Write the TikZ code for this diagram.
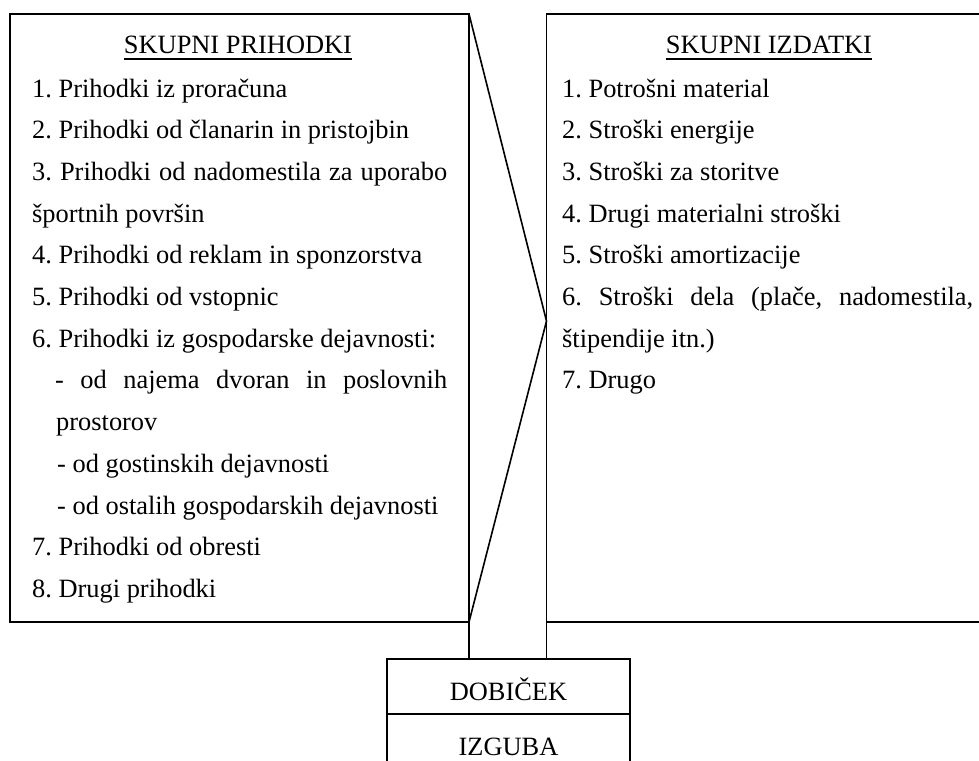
\documentclass[tikz,border=0pt]{standalone}
\usepackage{fontspec}
\setmainfont{Liberation Serif}
\frenchspacing
\begin{document}
\begin{tikzpicture}[x=1pt,y=-1pt,
  box/.style={draw, line width=1.7pt, inner sep=0pt, outer sep=0pt},
  txt/.style={anchor=base west, inner sep=0pt, font=\fontsize{26.4}{30}\selectfont\frenchspacing},
  ttl/.style={anchor=base, inner sep=0pt, font=\fontsize{26.4}{30}\selectfont},
  conn/.style={line width=1.6pt},
  uline/.style={line width=1.7pt}]
\useasboundingbox (0,0) rectangle (979,760);
\clip (0,0) rectangle (979,760);
% boxes
\node[box, minimum width=459pt, minimum height=608pt] (lbox) at (239.5,318) {};
\node[box, minimum width=460pt, minimum height=608pt] (rbox) at (776.5,318) {};
\node[box, minimum width=243pt, minimum height=55pt] (dob) at (508.5,686.5) {};
\node[box, minimum width=243pt, minimum height=80pt, anchor=north] (izg) at (dob.south) {};
% connectors
\coordinate (vy) at (0,321);
\coordinate (v) at (rbox.west |- vy);
\draw[conn, line join=miter] (lbox.north east) -- (v) -- (lbox.south east);
\draw[conn] (lbox.south east) -- (lbox.south east |- dob.north);
\draw[conn] (rbox.south west) -- (rbox.south west |- dob.north);
% titles
\node[ttl] (t1) at (238,53) {SKUPNI PRIHODKI};
\draw[uline] ([yshift=-6pt]t1.base west) -- ([yshift=-6pt]t1.base east);
\node[ttl] (t2) at (769,53) {SKUPNI IZDATKI};
\draw[uline] ([yshift=-6pt]t2.base west) -- ([yshift=-6pt]t2.base east);
% left list
\node[txt] (l1) at (32,97) {1. Prihodki iz proračuna};
\node[txt] (l2) at (32,138.7) {2. Prihodki od članarin in pristojbin};
\node[txt] (l3) at (32,180.4) {\makebox[415pt][s]{3. Prihodki od nadomestila za uporabo}};
\node[txt] (l3b) at (32,222.1) {športnih površin};
\node[txt] (l4) at (32,263.8) {4. Prihodki od reklam in sponzorstva};
\node[txt] (l5) at (32,305.5) {5. Prihodki od vstopnic};
\node[txt] (l6) at (32,347.2) {6. Prihodki iz gospodarske dejavnosti:};
\node[txt] (l6a) at (55,388.9) {\makebox[392pt][s]{- od najema dvoran in poslovnih}};
\node[txt] (l6b) at (56,430.6) {prostorov};
\node[txt] (l6c) at (57,472.3) {- od gostinskih dejavnosti};
\node[txt] (l6d) at (57,514) {- od ostalih gospodarskih dejavnosti};
\node[txt] (l7) at (32,555.7) {7. Prihodki od obresti};
\node[txt] (l8) at (32,597.4) {8. Drugi prihodki};
% right list
\node[txt] (r1) at (562,97) {1. Potrošni material};
\node[txt] (r2) at (562,138.7) {2. Stroški energije};
\node[txt] (r3) at (562,180.4) {3. Stroški za storitve};
\node[txt] (r4) at (562,222.1) {4. Drugi materialni stroški};
\node[txt] (r5) at (562,263.8) {5. Stroški amortizacije};
\node[txt] (r6) at (562,305.5) {\makebox[411pt][s]{6. Stroški dela (plače, nadomestila,}};
\node[txt] (r6b) at (562,347.2) {štipendije itn.)};
\node[txt] (r7) at (562,388.9) {7. Drugo};
% bottom labels
\node[ttl] (dobt) at (508.5,700) {DOBIČEK};
\node[ttl] (izgt) at (508.5,755) {IZGUBA};
\end{tikzpicture}
\end{document}
